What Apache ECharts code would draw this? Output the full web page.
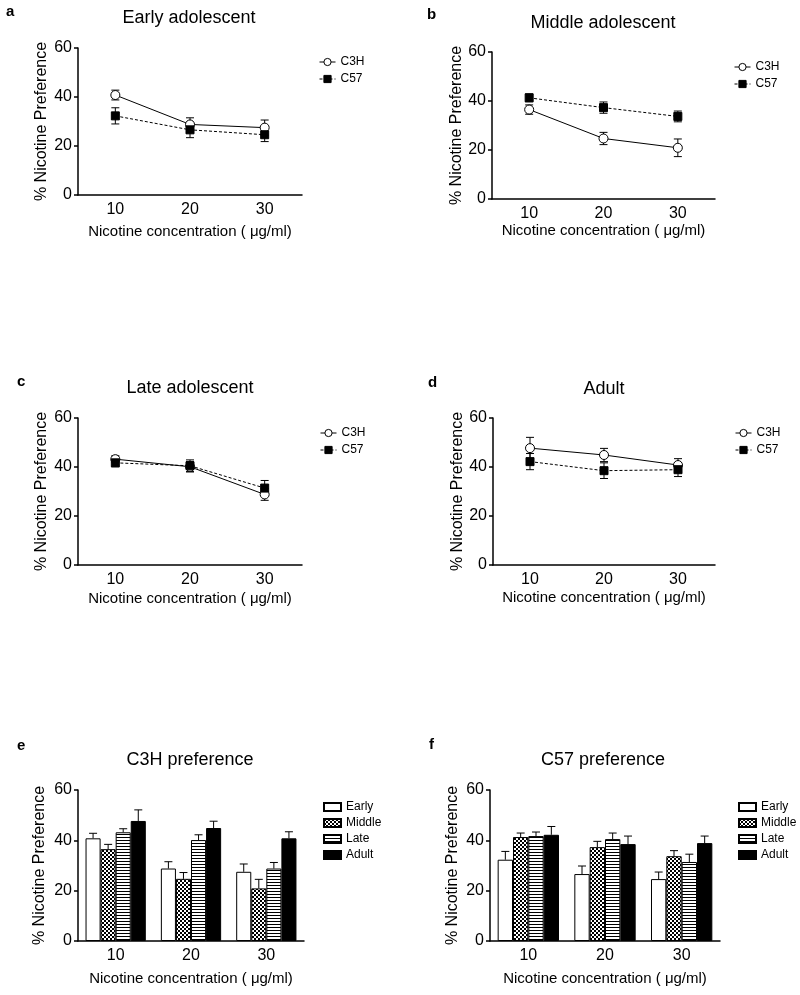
<!DOCTYPE html>
<html>
<head>
<meta charset="utf-8">
<script src="https://cdn.jsdelivr.net/npm/echarts@6/dist/echarts.min.js"></script>
<style>
html,body{margin:0;padding:0;background:#fff;}
#chart{width:800px;height:995px;}
</style>
</head>
<body>
<div id="chart"></div>
<script>
// ---------------- data ----------------
const concentrations = ['10', '20', '30'];
const stages = ['Early', 'Middle', 'Late', 'Adult'];
const strains = ['C3H', 'C57'];
const yTicks = [0, 20, 40, 60];
// means / SEM per stage (rows: Early, Middle, Late, Adult; cols: 10, 20, 30 µg/ml)
const c3hMeans = [[40.8, 28.8, 27.5], [36.5, 24.7, 20.9], [43.2, 40.1, 28.8], [47.7, 44.9, 40.8]];
const c3hErrs  = [[2.0, 2.7, 3.1], [1.9, 2.5, 3.6], [1.4, 2.1, 2.4], [4.4, 2.7, 2.6]];
const c57Means = [[32.3, 26.6, 24.6], [41.3, 37.3, 33.7], [41.7, 40.5, 31.4], [42.2, 38.5, 38.9]];
const c57Errs  = [[3.3, 3.2, 2.8], [1.6, 2.3, 2.2], [1.6, 2.4, 3.1], [3.3, 3.2, 2.8]];
const linePanelTitles = ['Early adolescent', 'Middle adolescent', 'Late adolescent', 'Adult'];
const barPanelTitles = ['C3H preference', 'C57 preference'];
const panelLetters = ['a', 'b', 'c', 'd', 'e', 'f'];
const xAxisName = 'Nicotine concentration ( \u03bcg/ml)';
const yAxisName = '% Nicotine Preference';

// ---------------- layout ----------------
const FONT = 'Liberation Sans, Arial, Helvetica, sans-serif';
const grids = [
  {left: 78, top: 48, width: 224, height: 147},
  {left: 492, top: 52, width: 223, height: 147},
  {left: 78, top: 418, width: 224, height: 147},
  {left: 493, top: 418, width: 222, height: 147},
  {left: 78, top: 790, width: 226, height: 151},
  {left: 490, top: 790, width: 230, height: 151}
];
const xNameGaps = [29, 23, 26, 25, 30, 30];
const yNameGaps = [28, 27, 28, 27, 30, 29];
const titlePos = [[189, 18], [603, 23], [190, 388], [604, 389], [190, 760], [603, 760]];
const letterPos = [[6, 12], [427, 15], [17, 382], [428, 383], [17, 746], [429, 745]];
const lineLegendPos = [[314, 51], [729, 56], [315, 422], [730, 422]];
const barLegendPos = [[318, 796], [733, 796]];
const barGapCat = 0.2;

function makePattern(type) {
  const c = document.createElement('canvas');
  c.width = 4; c.height = type === 'stripes' ? 3 : 4;
  const ctx = c.getContext('2d');
  ctx.fillStyle = '#fff';
  ctx.fillRect(0, 0, c.width, c.height);
  ctx.fillStyle = '#000';
  if (type === 'checker') {
    ctx.fillRect(0, 0, 2, 2);
    ctx.fillRect(2, 2, 2, 2);
  } else {
    ctx.fillRect(0, 0, 4, 1);
  }
  return {image: c, repeat: 'repeat'};
}
const barFills = ['#ffffff', makePattern('checker'), makePattern('stripes'), '#000000'];

const option = {
  animation: false,
  backgroundColor: '#fff',
  textStyle: {fontFamily: FONT, color: '#000'},
  grid: grids.map(g => Object.assign({containLabel: false}, g)),
  xAxis: grids.map((g, i) => ({
    type: 'category',
    gridIndex: i,
    data: concentrations,
    boundaryGap: true,
    name: xAxisName,
    nameLocation: 'middle',
    nameGap: xNameGaps[i],
    nameTextStyle: {fontSize: 15, color: '#000', fontFamily: FONT},
    axisLine: {lineStyle: {color: '#000', width: 1.5}},
    axisTick: {alignWithLabel: true, length: 4, lineStyle: {color: '#000', width: 1.5}},
    axisLabel: {fontSize: 16, color: '#000', margin: 7, fontFamily: FONT},
    splitLine: {show: false}
  })),
  yAxis: grids.map((g, i) => ({
    type: 'value',
    gridIndex: i,
    min: yTicks[0],
    max: yTicks[yTicks.length - 1],
    interval: 20,
    name: yAxisName,
    nameLocation: 'middle',
    nameGap: yNameGaps[i],
    nameRotate: 90,
    nameTextStyle: {fontSize: 16, color: '#000', fontFamily: FONT},
    axisLine: {show: true, lineStyle: {color: '#000', width: 1.5}},
    axisTick: {show: true, length: 4, lineStyle: {color: '#000', width: 1.5}},
    axisLabel: {fontSize: 16, color: '#000', margin: 6, fontFamily: FONT},
    splitLine: {show: false}
  })),
  legend: [],
  series: [],
  graphic: []
};

// titles and letters
titlePos.forEach((p, i) => {
  const txt = i < 4 ? linePanelTitles[i] : barPanelTitles[i - 4];
  option.graphic.push({type: 'text', x: p[0], y: p[1], silent: true,
    style: {text: txt, align: 'center', verticalAlign: 'middle', fontSize: 18, fontFamily: FONT, fill: '#000'}});
});
letterPos.forEach((p, i) => {
  option.graphic.push({type: 'text', x: p[0], y: p[1], silent: true,
    style: {text: panelLetters[i], align: 'left', verticalAlign: 'middle', fontSize: 15, fontWeight: 'bold', fontFamily: FONT, fill: '#000'}});
});

// ---------- line panels a-d ----------
function errRenderTwoSided(params, api) {
  const x = api.value(0), m = api.value(1), e = api.value(2);
  const top = api.coord([x, m + e]);
  const bot = api.coord([x, m - e]);
  const hw = 4;
  const st = {stroke: '#000', lineWidth: 1};
  return {type: 'group', children: [
    {type: 'line', shape: {x1: top[0], y1: top[1], x2: bot[0], y2: bot[1]}, style: st},
    {type: 'line', shape: {x1: top[0] - hw, y1: top[1], x2: top[0] + hw, y2: top[1]}, style: st},
    {type: 'line', shape: {x1: bot[0] - hw, y1: bot[1], x2: bot[0] + hw, y2: bot[1]}, style: st}
  ]};
}

for (let s = 0; s < 4; s++) {
  const strainData = [
    {name: 'C3H', means: c3hMeans[s], errs: c3hErrs[s]},
    {name: 'C57', means: c57Means[s], errs: c57Errs[s]}
  ];
  strainData.forEach(sd => {
    option.series.push({
      type: 'custom',
      name: 'err-' + sd.name + '-' + s,
      xAxisIndex: s, yAxisIndex: s,
      silent: true, z: 1,
      renderItem: errRenderTwoSided,
      encode: {x: 0, y: 1},
      data: concentrations.map((c, ci) => [ci, sd.means[ci], sd.errs[ci]])
    });
  });
  option.series.push({
    type: 'line', name: 'C3H', xAxisIndex: s, yAxisIndex: s, z: 3,
    symbol: 'circle', symbolSize: 9,
    itemStyle: {color: '#fff', borderColor: '#000', borderWidth: 1},
    lineStyle: {color: '#000', width: 1, type: 'solid'},
    data: c3hMeans[s]
  });
  option.series.push({
    type: 'line', name: 'C57', xAxisIndex: s, yAxisIndex: s, z: 4,
    symbol: 'rect', symbolSize: 8,
    itemStyle: {color: '#000', borderColor: '#000', borderWidth: 1},
    lineStyle: {color: '#000', width: 1, type: [3, 2]},
    data: c57Means[s]
  });
  option.legend.push({
    data: strains,
    orient: 'vertical',
    left: lineLegendPos[s][0], top: lineLegendPos[s][1],
    itemWidth: 16, itemHeight: 9, itemGap: 5,
    selectedMode: false,
    lineStyle: {width: 1},
    itemStyle: {borderWidth: 1},
    textStyle: {fontSize: 12, color: '#000', fontFamily: FONT}
  });
}

// ---------- bar panels e-f ----------
function makeBarErrRender() {
  return function (params, api) {
    const ci = api.value(0), si = api.value(1), m = api.value(2), e = api.value(3);
    const center = api.coord([ci, 0]);
    const band = api.size([1, 0])[0];
    const group = band * (1 - barGapCat);
    const bw = group / stages.length;
    const cx = center[0] - group / 2 + bw * (si + 0.5);
    const top = api.coord([ci, m + e]);
    const base = api.coord([ci, m]);
    const hw = 4;
    const st = {stroke: '#000', lineWidth: 1};
    return {type: 'group', children: [
      {type: 'line', shape: {x1: cx, y1: base[1], x2: cx, y2: top[1]}, style: st},
      {type: 'line', shape: {x1: cx - hw, y1: top[1], x2: cx + hw, y2: top[1]}, style: st}
    ]};
  };
}

[c3hMeans, c57Means].forEach((meansSet, p) => {
  const errsSet = p === 0 ? c3hErrs : c57Errs;
  const ax = 4 + p;
  stages.forEach((stage, si) => {
    option.series.push({
      type: 'bar', name: stage, xAxisIndex: ax, yAxisIndex: ax,
      barGap: '0%', barCategoryGap: (barGapCat * 100) + '%',
      itemStyle: {color: barFills[si], borderColor: '#000', borderWidth: 1},
      data: meansSet[si]
    });
  });
  const errData = [];
  stages.forEach((stage, si) => {
    concentrations.forEach((c, ci) => errData.push([ci, si, meansSet[si][ci], errsSet[si][ci]]));
  });
  option.series.push({
    type: 'custom', name: 'barerr-' + p, xAxisIndex: ax, yAxisIndex: ax,
    silent: true, z: 5,
    renderItem: makeBarErrRender(),
    encode: {x: 0, y: 2},
    data: errData
  });
  option.legend.push({
    data: stages,
    orient: 'vertical',
    left: barLegendPos[p][0], top: barLegendPos[p][1],
    itemWidth: 17, itemHeight: 8, itemGap: 4,
    icon: 'rect',
    selectedMode: false,
    textStyle: {fontSize: 12, color: '#000', fontFamily: FONT}
  });
});

const chart = echarts.init(document.getElementById('chart'), null, {renderer: 'canvas'});
chart.setOption(option);
</script>
</body>
</html>
